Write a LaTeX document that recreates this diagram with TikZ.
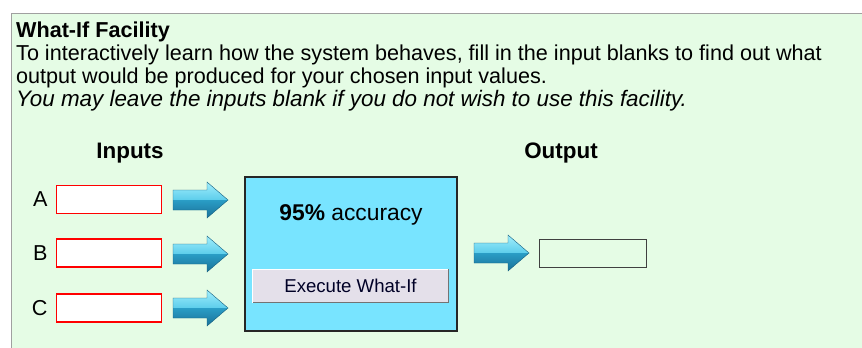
\documentclass[tikz,border=0pt]{standalone}
\usepackage{fontspec}
\setmainfont{Liberation Sans}
\definecolor{panelbg}{HTML}{E5FCE5}
\definecolor{panelline}{HTML}{A0A0A0}
\definecolor{engine}{HTML}{78E4FF}
\definecolor{btnface}{HTML}{E4E0EA}
\definecolor{arrowhi}{HTML}{A2EEFC}
\definecolor{arrowlt}{HTML}{5CCDEB}
\definecolor{arrowdk}{HTML}{2A9DC6}
\definecolor{arrowlo}{HTML}{1A7198}
\tikzset{
  txt/.style={inner sep=0pt, anchor=base west, font=\fontsize{21.6}{24}\selectfont},
  head/.style={inner sep=0pt, anchor=base, font=\fontsize{22.4}{24}\selectfont\bfseries},
  lbl/.style={inner sep=0pt, anchor=base, font=\fontsize{21.6}{24}\selectfont},
  inbox/.style={draw=red, line width=1.6pt, fill=white, minimum width=105pt, minimum height=28pt, inner sep=0pt},
  outbox/.style={draw=black!75, line width=1.2pt, fill=panelbg, minimum width=107pt, minimum height=28pt, inner sep=0pt},
  arrowupper/.style={top color=arrowhi, bottom color=arrowlt},
  arrowlower/.style={top color=arrowdk, bottom color=arrowlo},
  arrowedge/.style={draw=arrowlo!85!black, line width=0.4pt},
}
% bevelled block arrow: light upper half, dark lower half
\newcommand{\blockarrow}[1]{%
  \shade[arrowupper] (#1) -- ++(0,-10) -- ++(34,0) -- ++(0,-8) -- ++(21,18) -- cycle;
  \shade[arrowlower] (#1) -- ++(0,10) -- ++(34,0) -- ++(0,8) -- ++(21,-18) -- cycle;
  \draw[arrowedge] (#1) ++(0,-10) -- ++(34,0) -- ++(0,-8) -- ++(21,18)
    -- ++(-21,18) -- ++(0,-8) -- ++(-34,0) -- cycle;}
\begin{document}
\begin{tikzpicture}[x=1pt,y=-1pt]
\useasboundingbox (0,0) rectangle (862,348);
\fill[white] (0,0) rectangle (862,348);
% panel
\draw[panelline, fill=panelbg, line width=1pt] (11,13) rectangle (880,370);

% description text
\node[txt, font=\fontsize{21.6}{24}\selectfont\bfseries] (title) at (16,37) {What-If Facility};
\node[txt] (l1) at (16,60) {To interactively learn how the system behaves, fill in the input blanks to find out what};
\node[txt] (l2) at (16,83) {output would be produced for your chosen input values.};
\node[txt, font=\fontsize{22.4}{24}\selectfont\itshape] (l3) at (16,106) {You may leave the inputs blank if you do not wish to use this facility.};

% column headings
\node[head] (hin) at (130,158) {Inputs};
\node[head] (hout) at (561,158) {Output};

% input fields
\node[inbox] (inA) at (109,199.5) {};
\node[inbox] (inB) at (109,253) {};
\node[inbox] (inC) at (109,308) {};
\node[lbl, anchor=east] (la) at ([xshift=-8pt]inA.west) {A};
\node[lbl, anchor=east] (lb) at ([xshift=-8pt]inB.west) {B};
\node[lbl, anchor=east] (lc) at ([xshift=-8pt]inC.west) {C};

% block arrows
\coordinate (arA) at (173,200);
\coordinate (arB) at (173,254);
\coordinate (arC) at (173,308);
\coordinate (arO) at (474,253);
\blockarrow{arA}
\blockarrow{arB}
\blockarrow{arC}
\blockarrow{arO}

% engine box
\node[draw=black!85, line width=1.4pt, fill=engine, minimum width=212pt, minimum height=154pt, inner sep=0pt] (engine) at (351,254) {};
\node[lbl, font=\fontsize{22.8}{24}\selectfont] (acc) at (351,220) {\textbf{95\%} accuracy};

% button
\node[fill=btnface, minimum width=195pt, minimum height=33pt, inner sep=0pt] (btn) at (350.5,286) {};
\draw[white, line width=1.2pt] (btn.south west) -- (btn.north west) -- (btn.north east);
\draw[black!55, line width=1.2pt] (btn.north east) -- (btn.south east) -- (btn.south west);
\node[inner sep=0pt, font=\fontsize{18.6}{20}\selectfont, text=black!85!blue] (btntxt) at (btn.center) {Execute What-If};

% output field
\node[outbox] (out) at (593,253.5) {};
\end{tikzpicture}
\end{document}
